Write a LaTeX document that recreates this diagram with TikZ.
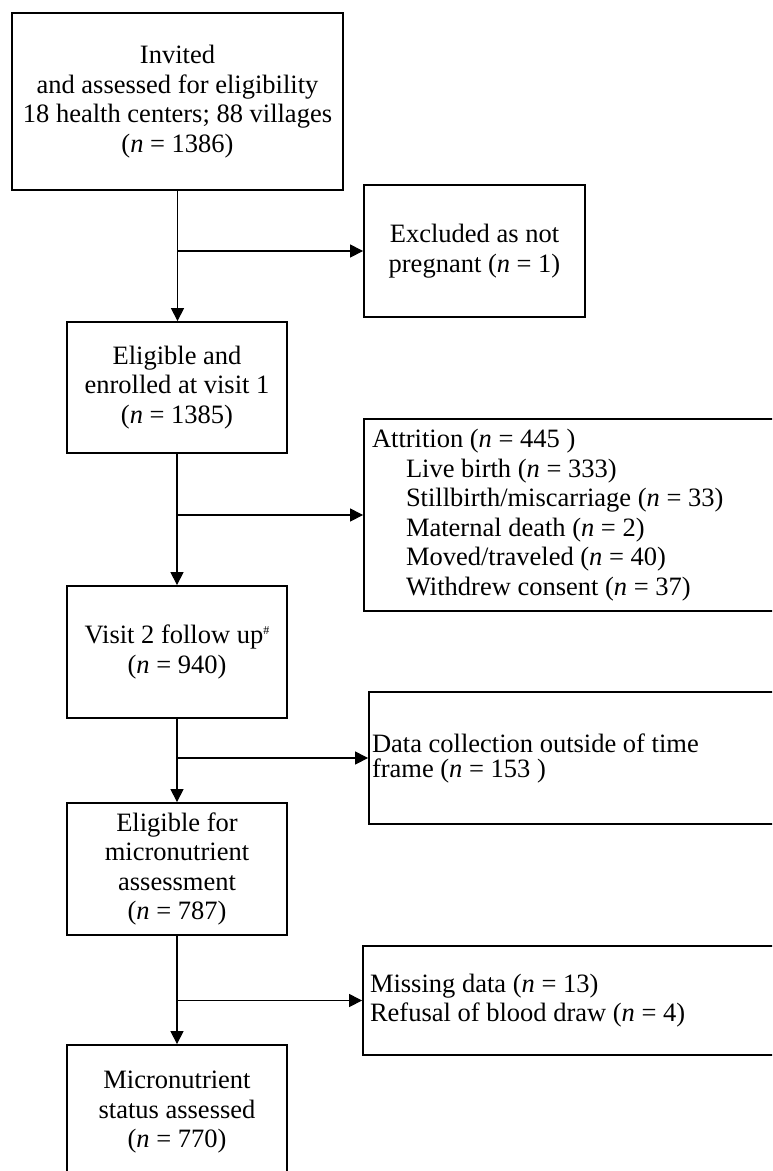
\documentclass[tikz,border=0pt]{standalone}
\usepackage{fontspec}
\setmainfont{Liberation Serif}
\usetikzlibrary{arrows.meta}
\newcommand{\myfs}{\fontsize{26.5}{29.5}\selectfont}
\newcommand{\myfsb}{\fontsize{26.5}{25}\selectfont}
\newcommand{\shp}{\raisebox{9pt}{\fontsize{12}{12}\selectfont\#}}
\begin{document}
\begin{tikzpicture}[x=1pt,y=-1pt,
  box/.style={draw,line width=1.8pt,inner sep=0pt,align=center,font=\myfs},
  sidebox/.style={draw,line width=1.8pt,inner xsep=8pt,inner ysep=0pt,align=flush left,font=\myfs},
  arr/.style={line width=1.1pt,-{Triangle[length=13pt,width=13pt]}}]
\useasboundingbox (0,0) rectangle (772,1171);
\clip (0,0) rectangle (772,1171);
% main column
\node[box,minimum width=331pt,minimum height=177pt] (b1) at (177.5,101.5)
  {Invited\\and assessed for eligibility\\18 health centers; 88 villages\\(\textit{n} = 1386)};
\node[box,minimum width=220pt,minimum height=131pt] (b2) at (177,387.5)
  {Eligible and\\enrolled at visit 1\\(\textit{n} = 1385)};
\node[box,minimum width=220pt,minimum height=132pt] (b3) at (177,652)
  {Visit 2 follow up\shp\\(\textit{n} = 940)};
\node[box,minimum width=220pt,minimum height=132pt] (b4) at (177,869)
  {Eligible for\\micronutrient\\assessment\\(\textit{n} = 787)};
\node[box,minimum width=220pt,minimum height=135pt] (b5) at (177,1112.5)
  {Micronutrient\\status assessed\\(\textit{n} = 770)};
% side boxes
\node[box,minimum width=221pt,minimum height=132pt] (ex) at (474.5,251)
  {Excluded as not\\pregnant (\textit{n} = 1)};
\node[sidebox,minimum width=426pt,minimum height=192pt,text width=410pt] (at) at (577,515)
  {Attrition (\textit{n} = 445 )\\
   \hspace*{34pt}Live birth (\textit{n} = 333)\\
   \hspace*{34pt}Stillbirth/miscarriage (\textit{n} = 33)\\
   \hspace*{34pt}Maternal death (\textit{n} = 2)\\
   \hspace*{34pt}Moved/traveled (\textit{n} = 40)\\
   \hspace*{34pt}Withdrew consent (\textit{n} = 37)};
\node[sidebox,inner xsep=3pt,font=\myfsb,minimum width=421pt,minimum height=132pt,text width=415pt] (dc) at (579.5,758)
  {Data collection outside of time\\frame (\textit{n} = 153 )};
\node[sidebox,inner xsep=7pt,minimum width=427pt,minimum height=109pt,text width=413pt] (ms) at (576.5,1000.5)
  {Missing data (\textit{n} = 13)\\Refusal of blood draw (\textit{n} = 4)};
% connectors
\draw[arr] (b1.south) -- (b1.south |- b2.north);
\draw[arr] (b1.south |- ex.west) -- (ex.west);
\draw[arr] (b2.south) -- (b3.north);
\draw[arr] (b2.south |- at.west) -- (at.west);
\draw[arr] (b3.south) -- (b4.north);
\draw[arr] (b3.south |- dc.west) -- (dc.west);
\draw[arr] (b4.south) -- (b5.north);
\draw[arr] (b4.south |- ms.west) -- (ms.west);
\end{tikzpicture}
\end{document}
